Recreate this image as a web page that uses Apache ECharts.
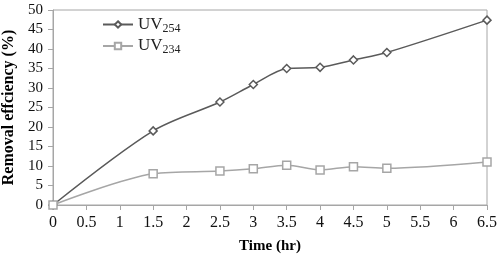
<!DOCTYPE html>
<html>
<head>
<meta charset="utf-8">
<script src="https://cdn.jsdelivr.net/npm/echarts@6/dist/echarts.min.js"></script>
<style>
  html, body { margin: 0; padding: 0; background: #fff; }
  #chart { width: 500px; height: 256px; }
</style>
</head>
<body>
<div id="chart"></div>
<script>
// time points (hr)
const times = [0, 1.5, 2.5, 3, 3.5, 4, 4.5, 5, 6.5]
// removal efficiency (%)
const uv254 = [0, 19.0, 26.4, 30.9, 35.0, 35.3, 37.2, 39.1, 47.4]
const uv234 = [0, 8.0, 8.7, 9.3, 10.2, 9.0, 9.8, 9.4, 11.0]

const font = '"Liberation Serif", "Times New Roman", serif'
const chart = echarts.init(document.getElementById('chart'))

const pairs = vals => times.map((t, i) => [t, vals[i]])

chart.setOption({
  animation: false,
  textStyle: { fontFamily: font },
  grid: {
    left: 53, right: 13, top: 10, bottom: 51,
    outerBoundsMode: 'none', containLabel: false,
    show: true, borderColor: '#a6a6a6', borderWidth: 1
  },
  legend: {
    left: 97, top: 11, orient: 'vertical', itemGap: 3,
    itemWidth: 30, itemHeight: 8,
    textStyle: {
      fontFamily: font, fontSize: 17, color: '#222',
      rich: {
        a: { fontFamily: font, fontSize: 17, color: '#222' },
        sub: { fontFamily: font, fontSize: 12, color: '#222', verticalAlign: 'bottom', padding: [8, 0, 0, 0] }
      }
    },
    formatter: name => '{a|UV}{sub|' + name.slice(2) + '}',
    data: ['UV254', 'UV234']
  },
  xAxis: {
    type: 'value', min: 0, max: 6.5, interval: 0.5,
    name: 'Time (hr)', nameLocation: 'middle', nameGap: 34,
    nameTextStyle: { fontFamily: font, fontSize: 15, fontWeight: 'bold', color: '#000' },
    axisLine: { lineStyle: { color: '#a6a6a6' } },
    axisTick: { show: true, length: 5, lineStyle: { color: '#a6a6a6' } },
    axisLabel: { fontFamily: font, fontSize: 16, color: '#111', margin: 10 },
    splitLine: { show: false }
  },
  yAxis: {
    type: 'value', min: 0, max: 50, interval: 5,
    name: 'Removal effciency (%)', nameLocation: 'middle', nameGap: 33,
    nameTextStyle: { fontFamily: font, fontSize: 16, fontWeight: 'bold', color: '#000' },
    axisLine: { show: true, lineStyle: { color: '#a6a6a6' } },
    axisTick: { show: true, length: 5, lineStyle: { color: '#a6a6a6' } },
    axisLabel: { fontFamily: font, fontSize: 15, color: '#111', margin: 10 },
    splitLine: { show: false }
  },
  series: [
    {
      name: 'UV254', type: 'line', smooth: 0.3,
      data: pairs(uv254),
      symbol: 'diamond', symbolSize: 8,
      lineStyle: { color: '#5a5a5a', width: 1.5 },
      itemStyle: { color: '#fff', borderColor: '#5a5a5a', borderWidth: 1.5 }
    },
    {
      name: 'UV234', type: 'line', smooth: 0.3,
      data: pairs(uv234),
      symbol: 'rect', symbolSize: 8,
      lineStyle: { color: '#a6a6a6', width: 1.5 },
      itemStyle: { color: '#fff', borderColor: '#a6a6a6', borderWidth: 1.5 }
    }
  ]
})
</script>
</body>
</html>
